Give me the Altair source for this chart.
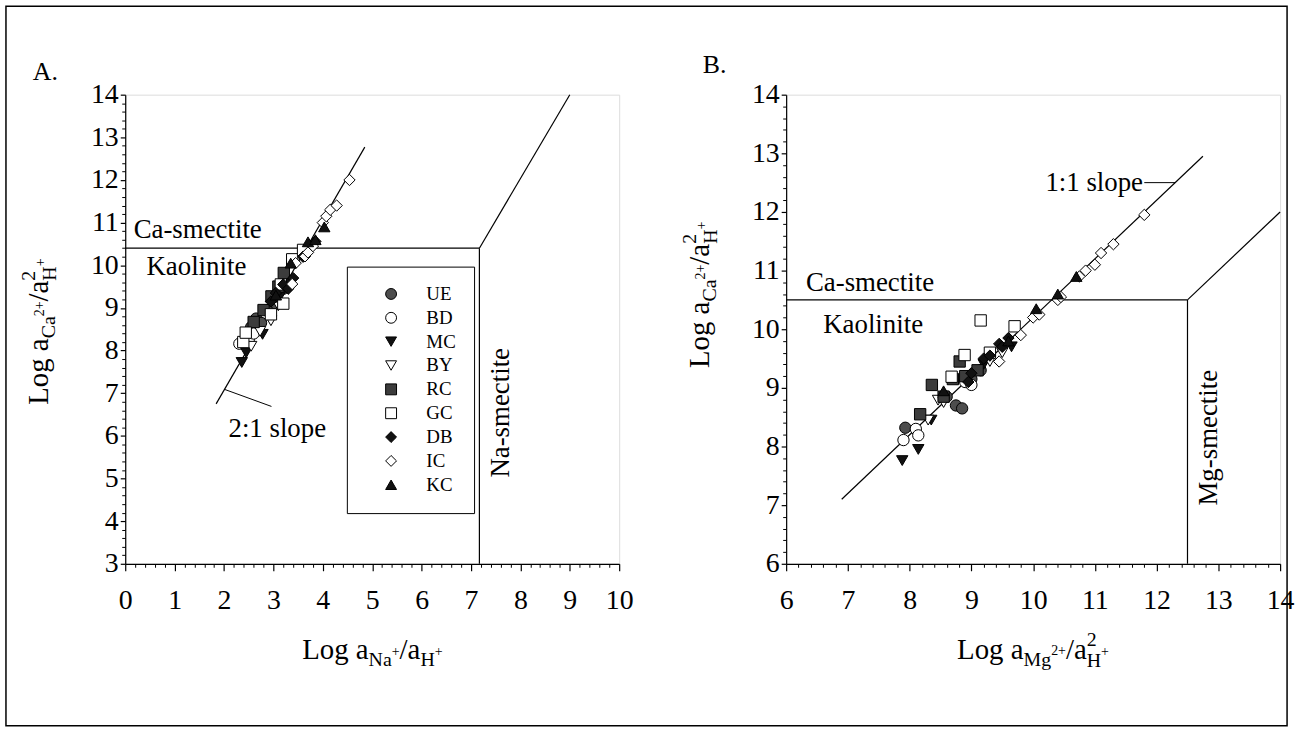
import altair as alt
import pandas as pd

FONT = "Liberation Serif"

# ---------------- data ----------------
sites = ["UE", "BD", "MC", "BY", "RC", "GC", "DB", "IC", "KC"]
site_shapes = ["circle", "circle", "triangle-down", "triangle-down", "square",
               "square", "diamond", "diamond", "triangle-up"]
site_fills = ["#4d4d4d", "#ffffff", "#111111", "#ffffff", "#3c3c3c",
              "#ffffff", "#111111", "#ffffff", "#111111"]

# Panel A: Log aNa+/aH+ (x) vs Log aCa2+/a2H+ (y)
a_site = (["UE"] * 6 + ["BD"] * 3 + ["MC"] * 5 + ["BY"] * 4 + ["RC"] * 5 +
          ["GC"] * 7 + ["DB"] * 7 + ["IC"] * 10 + ["KC"] * 5)
a_x = [2.55, 2.65, 2.75, 2.90, 3.05, 3.20,
       2.31, 2.50, 2.60,
       2.36, 2.45, 2.78, 3.15, 3.30,
       2.55, 2.73, 2.95, 3.10,
       2.60, 2.80, 2.96, 3.10, 3.21,
       2.39, 2.44, 2.95, 3.15, 3.38, 3.60, 3.20,
       2.95, 3.05, 3.20, 3.30, 3.40, 3.85, 3.60,
       3.38, 3.45, 3.64, 3.70, 3.80, 4.00, 4.07, 4.15, 4.28, 4.54,
       3.05, 3.35, 3.70, 3.85, 4.03]
a_y = [8.55, 8.75, 8.65, 8.95, 9.10, 9.45,
       8.16, 8.25, 8.40,
       7.72, 7.95, 8.38, 9.30, 9.60,
       8.10, 8.45, 8.70, 9.05,
       8.67, 8.95, 9.27, 9.50, 9.82,
       8.20, 8.42, 8.85, 9.55, 10.14, 10.36, 9.10,
       9.15, 9.35, 9.55, 9.45, 9.70, 10.56, 10.20,
       9.56, 10.05, 10.21, 10.30, 10.45, 11.00, 11.15, 11.30, 11.40, 12.00,
       9.30, 10.05, 10.55, 10.60, 10.90]

# Panel B: Log aMg2+/a2H+ (x) vs Log aCa2+/a2H+ (y)
b_site = (["UE"] * 6 + ["BD"] * 5 + ["MC"] * 5 + ["BY"] * 5 + ["RC"] * 7 +
          ["GC"] * 5 + ["DB"] * 7 + ["IC"] * 12 + ["KC"] * 5)
b_x = [7.93, 8.60, 8.75, 8.85, 9.00, 9.15,
       7.90, 8.10, 8.14, 8.90, 9.00,
       7.88, 8.14, 8.35, 9.20, 9.65,
       8.30, 8.46, 8.55, 9.30, 9.50,
       8.17, 8.36, 8.55, 8.70, 8.81, 8.90, 9.10,
       8.68, 8.89, 9.15, 9.30, 9.70,
       8.95, 9.00, 9.20, 9.30, 9.45, 9.50, 9.60,
       9.45, 9.80, 10.00, 10.10, 10.40, 10.45, 10.75, 10.85, 11.00, 11.10, 11.30, 11.80,
       8.55, 9.60, 10.05, 10.40, 10.70]
b_y = [8.32, 8.85, 8.70, 8.65, 9.15, 9.30,
       8.11, 8.30, 8.19, 9.10, 9.05,
       7.76, 7.95, 8.45, 9.40, 9.70,
       8.45, 8.79, 8.75, 9.45, 9.60,
       8.55, 9.05, 8.85, 9.15, 9.45, 9.20, 9.30,
       9.19, 9.56, 10.15, 9.60, 10.05,
       9.10, 9.25, 9.50, 9.55, 9.75, 9.70, 9.85,
       9.45, 9.90, 10.20, 10.25, 10.50, 10.55, 10.90, 11.00, 11.10, 11.30, 11.45, 11.95,
       8.95, 9.80, 10.35, 10.60, 10.90]

# stability-field boundaries (segments)
a_bx1 = [0.0, 7.17, 7.17]
a_by1 = [10.4, 3.0, 10.4]
a_bx2 = [7.17, 7.17, 9.0]
a_by2 = [10.4, 10.4, 14.0]
b_bx1 = [6.0, 12.5, 12.5]
b_by1 = [10.5, 6.0, 10.5]
b_bx2 = [12.5, 12.5, 14.0]
b_by2 = [10.5, 10.5, 12.0]

# slope lines and their label leaders
a_trend_x = [1.84, 4.85]
a_trend_y = [6.75, 12.77]
a_lead_x = [2.01, 2.96]
a_lead_y = [7.09, 6.69]
b_trend_x = [6.90, 12.75]
b_trend_y = [7.10, 12.95]
b_lead_x = [11.80, 12.30]
b_lead_y = [12.50, 12.50]

# region / annotation labels
a_lab_text = ["Ca-smectite", "Kaolinite", "Na-smectite", "2:1 slope"]
a_lab_x = [0.17, 0.43, 7.60, 2.09]
a_lab_y = [10.83, 9.96, 6.54, 6.16]
b_lab_text = ["Ca-smectite", "Kaolinite", "Mg-smectite", "1:1 slope"]
b_lab_x = [6.32, 6.60, 12.85, 11.78]
b_lab_y = [10.78, 10.07, 8.15, 12.50]
lab_align = ["left", "left", "center", "left"]
lab_angle = [0, 0, 270, 0]
b_lab_align = ["left", "left", "center", "right"]

W, H = 497, 472

# ---------------- helpers ----------------
CW = {"L": 0.611, "o": 0.5, "g": 0.5, " ": 0.25, "a": 0.444, "/": 0.278,
      "N": 0.722, "C": 0.667, "H": 0.722, "M": 0.889, "+": 0.564, "2": 0.5}


def tw(s, size):
    return sum(CW.get(c, 0.5) for c in s) * size


ONE = alt.Data(values=[{}])


def txt(text, x, y, size, angle=0, align="left", baseline="alphabetic"):
    return alt.Chart(ONE).mark_text(
        text=text, font=FONT, fontSize=size, angle=angle, align=align,
        baseline=baseline, color="black"
    ).encode(x=alt.value(x), y=alt.value(y))


def title_pieces(pieces, x0, y0, vertical=False):
    out = []
    adv = 0.0
    for text, size, off, advance in pieces:
        if vertical:
            out.append(txt(text, x0 + off, y0 - adv, size, angle=270))
        else:
            out.append(txt(text, x0 + adv, y0 + off, size))
        if advance:
            adv += tw(text, size)
    return out


def ticks(lo, hi):
    major = list(range(lo, hi + 1))
    minor = [round(lo + i * 0.2, 1) for i in range(int(round((hi - lo) / 0.2)) + 1)]
    minor = [m for m in minor if abs(m - round(m)) > 1e-6]
    return major, minor


def major_axis(orient, values, pad, size):
    return alt.Axis(orient=orient, values=values, title=None, format="d", grid=False,
                    labelFont=FONT, labelFontSize=28, labelColor="black",
                    labelPadding=pad, labelFlush=False, labelOverlap=False,
                    domainColor="black", domainWidth=1.2, tickColor="black",
                    tickWidth=1.2, tickSize=size)


def minor_axis(orient, values):
    return alt.Axis(orient=orient, values=values, title=None, labels=False,
                    domain=False, grid=False, tickColor="black", tickWidth=1,
                    tickSize=3.5)


def panel(site, xs_, ys_, xdom, ydom, bx1, by1, bx2, by2, tx, ty, lx, ly,
          labs, labx, laby, aligns, angles, legend, extra):
    xs = alt.Scale(domain=xdom, nice=False, zero=False)
    ys = alt.Scale(domain=ydom, nice=False, zero=False)
    xmaj, xmin = ticks(*xdom)
    ymaj, ymin = ticks(*ydom)

    bdf = pd.DataFrame({"x1": bx1, "y1": by1, "x2": bx2, "y2": by2})
    bounds = alt.Chart(bdf).mark_rule(color="black", strokeWidth=1.2).encode(
        x=alt.X("x1:Q", scale=xs, axis=minor_axis("bottom", xmin)),
        y=alt.Y("y1:Q", scale=ys, axis=minor_axis("left", ymin)),
        x2="x2:Q", y2="y2:Q")

    def seg(xv, yv, w):
        df = pd.DataFrame({"x1": [xv[0]], "y1": [yv[0]], "x2": [xv[1]], "y2": [yv[1]]})
        return alt.Chart(df).mark_rule(color="black", strokeWidth=w).encode(
            x=alt.X("x1:Q", scale=xs, axis=None),
            y=alt.Y("y1:Q", scale=ys, axis=None),
            x2="x2:Q", y2="y2:Q")

    trend = seg(tx, ty, 1.2)
    lead = seg(lx, ly, 1.0)

    labels = []
    for t, x, y, al, an in zip(labs, labx, laby, aligns, angles):
        df = pd.DataFrame({"t": [t], "x": [x], "y": [y]})
        labels.append(alt.Chart(df).mark_text(
            font=FONT, fontSize=27, align=al, baseline="middle", angle=an,
            color="black").encode(
            x=alt.X("x:Q", scale=xs, axis=None),
            y=alt.Y("y:Q", scale=ys, axis=None),
            text="t:N"))

    pdf = pd.DataFrame({"site": site, "x": xs_, "y": ys_})
    pts = alt.Chart(pdf).mark_point(filled=True, size=130, strokeWidth=1,
                                    opacity=1).encode(
        x=alt.X("x:Q", scale=xs, axis=major_axis("bottom", xmaj, 16, 7)),
        y=alt.Y("y:Q", scale=ys, axis=major_axis("left", ymaj, 2, 5)),
        shape=alt.Shape("site:N", scale=alt.Scale(domain=sites, range=site_shapes),
                        legend=legend),
        fill=alt.Fill("site:N", scale=alt.Scale(domain=sites, range=site_fills),
                      legend=legend),
        stroke=alt.Stroke("site:N", scale=alt.Scale(domain=sites, range=["black"] * 9),
                          legend=legend),
    )

    layers = [bounds, trend, lead] + labels + [pts] + extra
    return alt.layer(*layers).resolve_axis(x="independent", y="independent").properties(
        width=W, height=H)


legend_a = alt.Legend(title=None, orient="none", legendX=223, legendY=173,
                      strokeColor="black", fillColor="white",
                      padding=18, rowPadding=4, symbolOffset=17, labelOffset=26,
                      labelFont=FONT, labelFontSize=19, labelColor="black",
                      symbolSize=120, symbolStrokeWidth=1)

frame = alt.Chart(ONE).mark_rect(fillOpacity=0, stroke="black", strokeWidth=1.5).encode(
    x=alt.value(-120), x2=alt.value(1169), y=alt.value(-89), y2=alt.value(635))

MAIN, SUB, SUP = 29, 20, 14
ca_title = [("Log a", MAIN, 0, True), ("Ca", SUB, 7, True), ("2+", SUP, -4, True),
            ("/a", MAIN, 0, True), ("2", SUB, -13, False), ("H", SUB, 8, True),
            ("+", SUP, -3, True)]

a_extra = [frame, txt("A.", -93, -15, 26)]
a_extra += title_pieces([("Log a", MAIN, 0, True), ("Na", SUB, 7, True), ("+", SUP, -3, True),
                         ("/a", MAIN, 0, True), ("H", SUB, 7, True), ("+", SUP, -3, True)],
                        178, 568)
a_extra += title_pieces(ca_title, -78, 312, vertical=True)

b_extra = [txt("B.", -84, -22, 26)]
b_extra += title_pieces([("Log a", MAIN, 0, True), ("Mg", SUB, 7, True), ("2+", SUP, -4, True),
                         ("/a", MAIN, 0, True), ("2", SUB, -13, False), ("H", SUB, 8, True),
                         ("+", SUP, -3, True)], 172, 568)
b_extra += title_pieces(ca_title, -78, 275, vertical=True)

chart_a = panel(a_site, a_x, a_y, (0, 10), (3, 14), a_bx1, a_by1, a_bx2, a_by2,
                a_trend_x, a_trend_y, a_lead_x, a_lead_y,
                a_lab_text, a_lab_x, a_lab_y, lab_align, lab_angle, legend_a, a_extra)
chart_b = panel(b_site, b_x, b_y, (6, 14), (6, 14), b_bx1, b_by1, b_bx2, b_by2,
                b_trend_x, b_trend_y, b_lead_x, b_lead_y,
                b_lab_text, b_lab_x, b_lab_y, b_lab_align, lab_angle, None, b_extra)

chart = alt.hconcat(chart_a, chart_b, spacing=168, bounds="flush").resolve_scale(
    x="independent", y="independent", shape="independent", fill="independent",
    stroke="independent"
).resolve_legend(shape="independent", fill="independent", stroke="independent").properties(
    padding={"left": 4, "top": 2, "right": 3, "bottom": 4}, background="white"
).configure_view(stroke="black", strokeWidth=1.2).configure(font=FONT)

chart.save("out.html", embed_options={"renderer": "svg", "actions": False})
